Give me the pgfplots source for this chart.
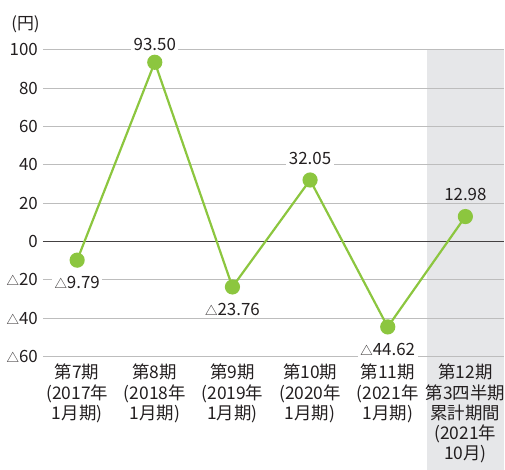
\documentclass[border=0pt]{standalone}
\usepackage{fontspec}
\setmainfont{Noto Sans CJK JP}
\usepackage{pgfplots}
\pgfplotsset{compat=1.18}
\definecolor{lgreen}{HTML}{8CC63F}
\definecolor{shadecol}{HTML}{E6E7E9}
\definecolor{gridc}{HTML}{BDBDBD}
\definecolor{txt}{HTML}{231F20}
\newcommand\tri{{\fontsize{12.5}{13}\selectfont △}}
\begin{document}
\begin{tikzpicture}
\begin{axis}[
  set layers,
  scale only axis,
  width=462.2bp, height=307.2bp,
  xmin=-0.44, xmax=5.5,
  ymin=-60, ymax=100,
  clip=false,
  axis line style={draw=none},
  major tick length=0pt,
  ytick={-60,-40,-20,0,20,40,60,80,100},
  yticklabels={\tri60,\tri40,\tri20,0,20,40,60,80,100},
  ymajorgrids,
  grid style={gridc, line width=0.9bp},
  xtick={0,1,2,3,4,5},
  xticklabels={
    {第7期\\(2017年\\1月期)},
    {第8期\\(2018年\\1月期)},
    {第9期\\(2019年\\1月期)},
    {第10期\\(2020年\\1月期)},
    {第11期\\(2021年\\1月期)},
    {第12期\\第3四半期\\累計期間\\(2021年\\10月)}},
  yticklabel style={font=\fontsize{17}{18}\selectfont, text=txt, anchor=east, inner sep=0pt, xshift=-5bp},
  xticklabel style={font=\fontsize{17.5}{20.4}\selectfont, text=txt, align=center, anchor=north, inner sep=0pt, yshift=-7.5bp},
]
\begin{pgfonlayer}{axis background}
\fill[shadecol] (axis cs:4.5,100) rectangle (axis cs:5.5,-119.3);
\end{pgfonlayer}
\draw[txt!85, line width=1.2bp] (axis cs:-0.44,0) -- (axis cs:5.5,0);
\addplot[lgreen, line width=2.2bp, mark=*, mark size=6.5bp, mark options={fill=lgreen, draw=lgreen}]
  coordinates {(0,-9.79) (1,93.50) (2,-23.76) (3,32.05) (4,-44.62) (5,12.98)};
\tikzset{dl/.style={font=\fontsize{17}{18}\selectfont, text=txt, fill=white, inner sep=2.5bp}}
\node[dl] at (axis cs:0,-21.4) {\tri9.79};
\node[dl] at (axis cs:1,102.6) {93.50};
\node[dl] at (axis cs:2,-35.4) {\tri23.76};
\node[dl] at (axis cs:3,43.5) {32.05};
\node[dl] at (axis cs:4,-56.2) {\tri44.62};
\node[dl, fill=shadecol] at (axis cs:5,24.5) {12.98};
\node[font=\fontsize{17}{18}\selectfont, text=txt, anchor=west, inner sep=0pt] at (axis cs:-0.85,113.5) {(円)};
\coordinate (bl) at (axis cs:-0.9935,-119.3);
\coordinate (tr) at (axis cs:5.5,126);
\end{axis}
\useasboundingbox (bl) rectangle (tr);
\end{tikzpicture}
\end{document}
